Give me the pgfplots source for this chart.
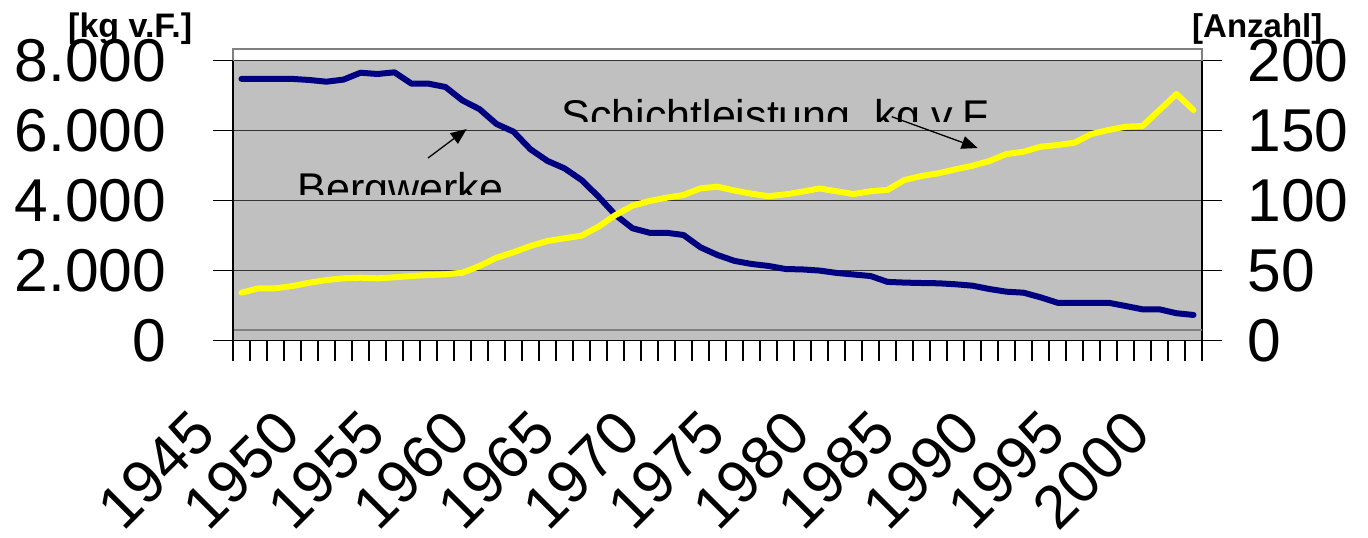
\documentclass[border=0pt]{standalone}
\usepackage{fontspec}
\setmainfont{Liberation Sans}
\usepackage{pgfplots}
\usepackage{pgfplotstable}
\pgfplotsset{compat=1.18}
\usetikzlibrary{arrows.meta}
\definecolor{bgray}{HTML}{C0C0C0}
\definecolor{navyb}{HTML}{000080}
\definecolor{yel}{HTML}{FFFF00}
\definecolor{frame}{HTML}{808080}

\pgfplotstableread{
year berg schicht
1945 187 1371
1946 187 1497
1947 187 1497
1948 187 1563
1949 186.2 1657
1950 185 1734
1951 186.5 1783
1952 191.4 1800
1953 190.5 1783
1954 191.7 1811
1955 183.6 1849
1956 183.6 1877
1957 181.2 1897
1958 171.6 1943
1959 165.4 2134
1960 154.8 2371
1961 149.3 2526
1962 136.7 2706
1963 128.4 2849
1964 123.1 2926
1965 114.8 3000
1966 102.9 3257
1967 89.8 3591
1968 80.3 3857
1969 77.1 3991
1970 77.1 4086
1971 75.5 4163
1972 66.7 4354
1973 61.2 4400
1974 57 4290
1975 54.8 4200
1976 53.4 4130
1977 51.2 4180
1978 50.9 4260
1979 50.1 4350
1980 48.4 4270
1981 47.3 4190
1982 46.2 4270
1983 42 4310
1984 41.5 4591
1985 41.2 4706
1986 41 4783
1987 40.3 4897
1988 39.3 5000
1989 36.9 5134
1990 35 5334
1991 34.3 5400
1992 31 5543
1993 27.1 5591
1994 27.1 5657
1995 27.1 5906
1996 27.1 6020
1997 24.8 6114
1998 22.4 6134
1999 22.4 6591
2000 19.6 7049
2001 18.4 6591
}\data

\begin{document}
\begin{tikzpicture}
\pgfplotsset{
  common/.style={
    scale only axis, width=969pt, height=280pt,
    at={(0pt,0pt)}, anchor=south west,
    xmin=1944.5, xmax=2001.5,
    tick align=outside, major tick length=20pt,
    tick style={black, line width=1.2pt},
    axis line style={black, line width=1.3pt},
    tick label style={font=\fontsize{60.5}{62}\selectfont, inner sep=0pt},
  }
}
% right axis: Bergwerke (Anzahl)
\begin{axis}[common,
  ymin=0, ymax=200,
  axis y line*=right, axis x line=none,
  ytick={0,50,100,150,200},
  yticklabels={\mbox{0},\mbox{50},\mbox{100},\mbox{150},\mbox{200}},
  yticklabel style={anchor=west, xshift=25.5pt},
  ymajorgrids, grid style={black!80, line width=1.2pt},
  axis background/.style={fill=bgray},
]
\addplot[navyb, line width=6pt, line join=round, line cap=round] table[x=year, y=berg]{\data};
\end{axis}
% plot-area frame (offset like the original)
\draw[frame, line width=1.5pt] (0pt,10.7pt) -- (969pt,10.7pt);
\draw[frame, line width=1.5pt] (0pt,280pt) -- (0pt,291.7pt) -- (969pt,291.7pt) -- (969pt,280pt);
% left axis: Schichtleistung (kg v.F.)
\begin{axis}[common,
  ymin=0, ymax=8000,
  axis y line*=left, axis x line*=bottom,
  ytick={0,2000,4000,6000,8000},
  yticklabels={\mbox{0},\mbox{2.000},\mbox{4.000},\mbox{6.000},\mbox{8.000}},
  yticklabel style={anchor=east, xshift=-46.5pt},
  xtick={1944.5,1945.5,...,2001.5},
  xticklabels={},
  extra x ticks={1945,1950,1955,1960,1965,1970,1975,1980,1985,1990,1995,2000},
  extra x tick labels={\mbox{1945},\mbox{1950},\mbox{1955},\mbox{1960},\mbox{1965},\mbox{1970},\mbox{1975},\mbox{1980},\mbox{1985},\mbox{1990},\mbox{1995},\mbox{2000}},
  extra x tick style={tick style={draw=none},
    xticklabel style={xshift=-53pt, yshift=-46pt, rotate=45, anchor=north east}},
]
\addplot[yel, line width=6pt, line join=round, line cap=round] table[x=year, y=schicht]{\data};
\end{axis}
% axis titles
\node[anchor=base west, inner sep=0pt, font=\fontsize{34}{36}\selectfont\bfseries] at (-165pt,302.7pt) {[kg v.F.]};
\node[anchor=base west, inner sep=0pt, font=\fontsize{33}{36}\selectfont\bfseries] at (959pt,302.7pt) {[Anzahl]};
% clipped annotations
\begin{scope}
\clip (300pt,219pt) rectangle (800pt,270pt);
\node[anchor=base west, inner sep=0pt, font=\fontsize{43}{46}\selectfont] at (328.3pt,209.7pt) {Schichtleistung, kg v.F.};
\end{scope}
\begin{scope}
\clip (40pt,145.7pt) rectangle (300pt,200pt);
\node[anchor=base west, inner sep=0pt, font=\fontsize{43}{46}\selectfont] at (64.3pt,136.7pt) {Bergwerke};
\end{scope}
\draw[line width=1.3pt, -{Triangle[length=16pt,width=13pt]}] (195pt,182.7pt) -- (233.7pt,211.7pt);
\draw[line width=1.3pt, -{Triangle[length=16pt,width=13pt]}] (658.7pt,224pt) -- (744.7pt,192.7pt);
\pgfresetboundingbox
\useasboundingbox (-233pt,-197.3pt) rectangle (1135pt,340.7pt);
\end{tikzpicture}
\end{document}
